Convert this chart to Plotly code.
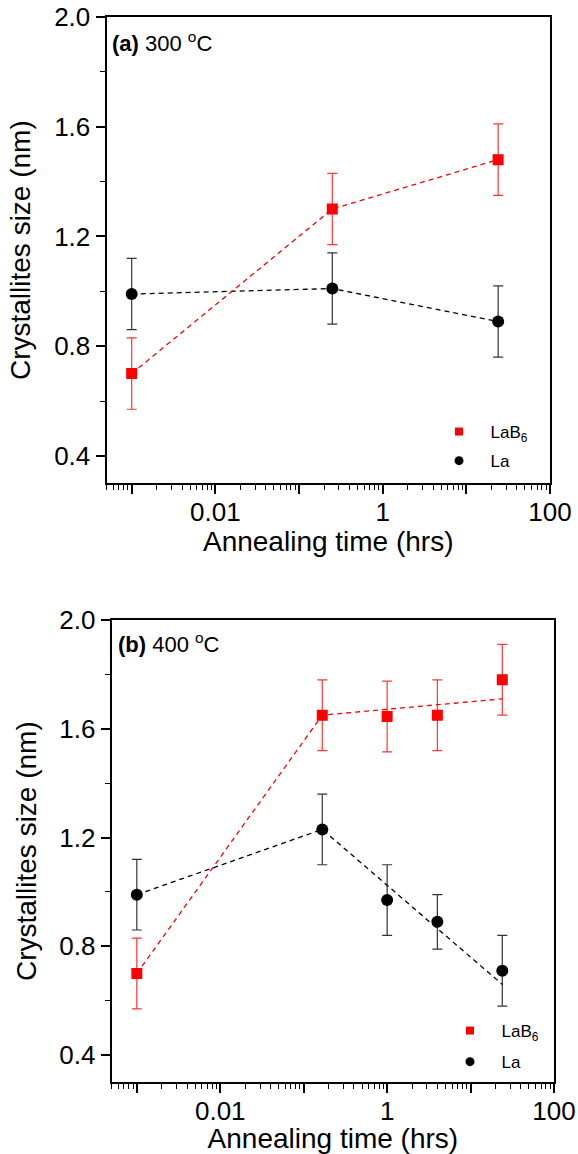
import numpy as np
import plotly.graph_objects as go

# ---------------- data ----------------
# panel (a) 300 C
time_a = [0.001, 0.25, 24]
lab6_a = [0.70, 1.30, 1.48]
lab6_a_err = [0.13, 0.13, 0.13]
la_a = [0.99, 1.01, 0.89]
la_a_err = [0.13, 0.13, 0.13]

# panel (b) 400 C
time_b = [0.001, 0.167, 1, 4, 24]
lab6_b = [0.70, 1.65, 1.645, 1.65, 1.78]
lab6_b_err = [0.13, 0.13, 0.13, 0.13, 0.13]
la_b = [0.99, 1.23, 0.97, 0.89, 0.71]
la_b_err = [0.13, 0.13, 0.13, 0.10, 0.13]

# guide (dashed) lines in panel (b)
guide_time_b = [0.001, 0.167, 24]
guide_lab6_b = [0.70, 1.65, 1.71]
guide_la_b = [0.99, 1.23, 0.66]

x_ticks = [0.001, 0.01, 0.1, 1, 10, 100]
x_ticktext = ["", "0.01", "", "1", "", "100"]
y_ticks = [0.4, 0.8, 1.2, 1.6, 2.0]
y_ticktext = ["0.4", "0.8", "1.2", "1.6", "2.0"]

panel_labels = ["<b>(a)</b> 300 <sup>o</sup>C", "<b>(b)</b> 400 <sup>o</sup>C"]
legend_names = ["\u00a0\u2009\u2009LaB<sub>6</sub>", "\u00a0\u2009\u2009La"]

# ---------------- style ----------------
W, H = 578, 1154
FONT = "Liberation Sans, Arial, sans-serif"
RED = "#ff0000"
RED_ERR = "rgba(255,0,0,0.8)"
BLK = "#000000"
BLK_ERR = "rgba(0,0,0,0.8)"
DASH = "5px,4px"

minor_x = [m * 10.0 ** e for e in range(-4, 2) for m in range(2, 10)]

fig = go.Figure()

def add_panel(xa, ya, t, lab6, lab6e, la, lae, gt, gl6, gla, legend):
    fig.add_trace(go.Scatter(x=gt, y=gla, mode="lines", xaxis=xa, yaxis=ya,
                             line=dict(color=BLK, width=1.3, dash=DASH), showlegend=False))
    fig.add_trace(go.Scatter(x=gt, y=gl6, mode="lines", xaxis=xa, yaxis=ya,
                             line=dict(color=RED, width=1.3, dash=DASH), showlegend=False))
    fig.add_trace(go.Scatter(x=t, y=la, mode="markers", xaxis=xa, yaxis=ya,
                             marker=dict(symbol="circle", size=12, color=BLK),
                             error_y=dict(type="data", array=lae, color=BLK_ERR, thickness=1.2, width=5),
                             showlegend=False))
    fig.add_trace(go.Scatter(x=t, y=lab6, mode="markers", xaxis=xa, yaxis=ya,
                             marker=dict(symbol="square", size=11, color=RED),
                             error_y=dict(type="data", array=lab6e, color=RED_ERR, thickness=1.2, width=5),
                             showlegend=False))
    # legend entries
    fig.add_trace(go.Scatter(x=[None], y=[None], mode="markers", xaxis=xa, yaxis=ya,
                             marker=dict(symbol="square", size=8, color=RED),
                             name=legend_names[0], legend=legend, legendgroup=legend + "a"))
    fig.add_trace(go.Scatter(x=[None], y=[None], mode="markers", xaxis=xa, yaxis=ya,
                             marker=dict(symbol="circle", size=9, color=BLK),
                             name=legend_names[1], legend=legend, legendgroup=legend + "b"))

add_panel("x", "y", time_a, lab6_a, lab6_a_err, la_a, la_a_err,
          time_a, lab6_a, la_a, "legend")
add_panel("x2", "y2", time_b, lab6_b, lab6_b_err, la_b, la_b_err,
          guide_time_b, guide_lab6_b, guide_la_b, "legend2")

def xaxis(domain, anchor):
    return dict(domain=domain, anchor=anchor, type="log", range=[np.log10(0.0005), 2],
                automargin=False,
                tickmode="array", tickvals=x_ticks, ticktext=x_ticktext,
                ticks="outside", ticklen=9, tickwidth=1.5, tickcolor=BLK,
                ticklabelstandoff=-5,
                minor=dict(tickmode="array", tickvals=minor_x, ticks="outside",
                           ticklen=5, tickwidth=1.2, tickcolor=BLK, showgrid=False),
                showline=True, linecolor=BLK, linewidth=2, mirror=True,
                showgrid=False, zeroline=False,
                tickfont=dict(family=FONT, size=26, color=BLK),
                title=dict(text="Annealing time (hrs)", standoff=0,
                           font=dict(family=FONT, size=28, color=BLK)))

def yaxis(domain, anchor):
    return dict(domain=domain, anchor=anchor, range=[0.3, 2.0],
                automargin=False,
                tickmode="array", tickvals=y_ticks, ticktext=y_ticktext,
                ticks="outside", ticklen=9, tickwidth=1.5, tickcolor=BLK,
                minor=dict(tickmode="array", tickvals=[0.6, 1.0, 1.4, 1.8], ticks="outside",
                           ticklen=5, tickwidth=1.2, tickcolor=BLK, showgrid=False),
                showline=True, linecolor=BLK, linewidth=2, mirror=True,
                showgrid=False, zeroline=False,
                tickfont=dict(family=FONT, size=26, color=BLK),
                title=dict(text="Crystallites size (nm)", standoff=15,
                           font=dict(family=FONT, size=28, color=BLK)))

xa_dom = [106.5 / W, 550 / W]
ya_dom = [1 - 483.3 / H, 1 - 17 / H]
xb_dom = [111.7 / W, 554 / W]
yb_dom = [1 - 1082.3 / H, 1 - 620 / H]

fig.update_layout(
    width=W, height=H,
    margin=dict(l=0, r=0, t=0, b=0, autoexpand=False),
    paper_bgcolor="white", plot_bgcolor="white",
    font=dict(family=FONT, color=BLK),
    xaxis=xaxis(xa_dom, "y"), yaxis=yaxis(ya_dom, "x"),
    xaxis2=xaxis(xb_dom, "y2"), yaxis2=yaxis(yb_dom, "x2"),
    legend=dict(x=439 / W, y=1 - 414 / H, xanchor="left", yanchor="top",
                bgcolor="rgba(0,0,0,0)", font=dict(family=FONT, size=17, color=BLK),
                tracegroupgap=4, itemsizing="trace"),
    legend2=dict(x=450 / W, y=1 - 1013 / H, xanchor="left", yanchor="top",
                 bgcolor="rgba(0,0,0,0)", font=dict(family=FONT, size=17, color=BLK),
                 tracegroupgap=6, itemsizing="trace"),
    showlegend=True,
)

fig.add_annotation(x=110 / W, y=1 - 42 / H, xref="paper", yref="paper",
                   xanchor="left", yanchor="middle", showarrow=False,
                   text=panel_labels[0], font=dict(family=FONT, size=22, color=BLK))
fig.add_annotation(x=116 / W, y=1 - 643 / H, xref="paper", yref="paper",
                   xanchor="left", yanchor="middle", showarrow=False,
                   text=panel_labels[1], font=dict(family=FONT, size=22, color=BLK))

fig.write_html("out.html")
